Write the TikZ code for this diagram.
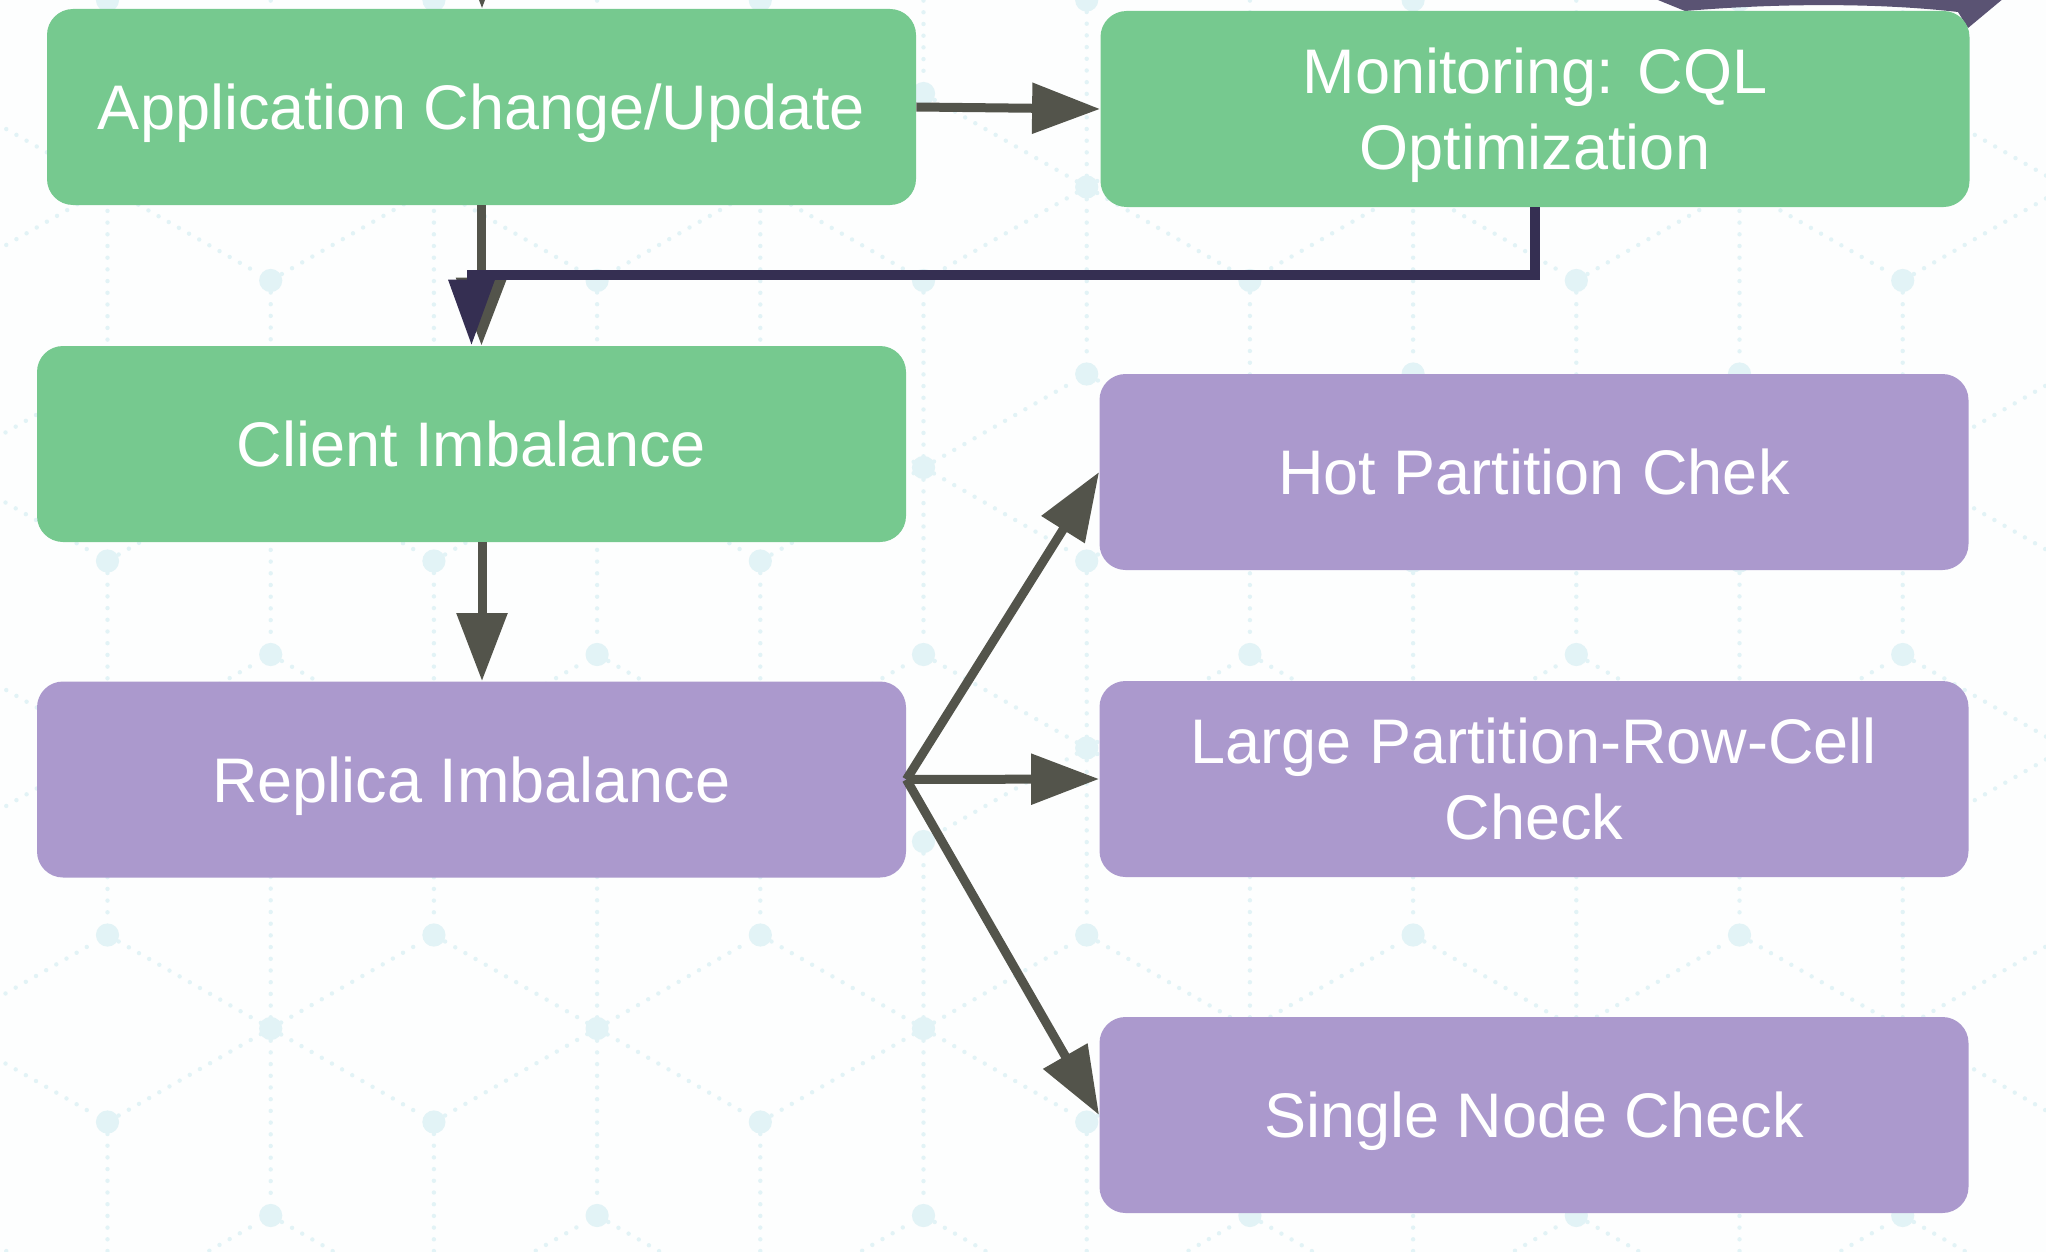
\documentclass[tikz,border=0pt]{standalone}
\usepackage{fontspec}
\setmainfont{Liberation Sans}
\usetikzlibrary{arrows.meta}
\definecolor{boxgreen}{RGB}{118,201,143}
\definecolor{boxpurple}{RGB}{171,153,205}
\definecolor{arrowgray}{RGB}{83,84,75}
\definecolor{darkpur}{RGB}{53,47,82}
\definecolor{patcol}{RGB}{226,243,246}
\definecolor{bgcol}{RGB}{253,254,254}
\definecolor{topshapecol}{RGB}{90,83,115}
\tikzset{
  box/.style={rectangle, rounded corners=13pt, minimum width=434.5pt, minimum height=98pt,
    inner sep=0pt, align=center, text=white, text depth=0pt, font=\fontsize{31.5pt}{38pt}\selectfont},
  greenbox/.style={box, fill=boxgreen},
  purplebox/.style={box, fill=boxpurple},
  grayarrow/.style={draw=arrowgray, line width=4.5pt, -{Triangle[length=34pt,width=24.5pt]}},
  darkarrow/.style={draw=darkpur, line width=5pt, -{Triangle[length=33pt,width=22pt]}},
  bgline/.style={draw=patcol, line width=2.2pt, line cap=round, dash pattern=on 0pt off 5.85pt},
  bgdot/.style={fill=patcol},
}
\begin{document}
\begin{tikzpicture}[x=0.5pt,y=-0.5pt]
\useasboundingbox (0,0) rectangle (2046,1252);
\clip (0,0) rectangle (2046,1252);
\fill[bgcol] (0,0) rectangle (2046,1252);
% background isometric pattern
\foreach \i in {-1,...,13}{
  \foreach \j in {-2,...,15}{
    \pgfmathtruncatemacro\pp{mod(\i+\j+40,2)}
    \ifnum\pp=0
      \pgfmathtruncatemacro\ff{mod((\j+3*\i)/2+60,3)}
      \pgfmathsetmacro\px{107.5+163.2*\i}
      \pgfmathsetmacro\py{93.5*\j}
      \ifnum\ff=1
        \draw[bgline] (\px,\py) ++(0,-175) -- ++(0,350);
        \draw[bgline] (\px,\py) ++(-152,-87) -- ++(304,174);
        \draw[bgline] (\px,\py) ++(-152,87) -- ++(304,-174);
      \fi
    \fi
  }
}
\foreach \i in {-1,...,13}{
  \foreach \j in {-2,...,15}{
    \pgfmathtruncatemacro\pp{mod(\i+\j+40,2)}
    \ifnum\pp=0
      \pgfmathsetmacro\px{107.5+163.2*\i}
      \pgfmathsetmacro\py{93.5*\j}
      \fill[bgdot] (\px,\py) circle[radius=5.8pt];
    \fi
  }
}
% partial shape at top right
\fill[topshapecol] (1653,-2) -- (1685,11) .. controls (1780,3) and (1880,3) .. (1958,12) -- (1968,28) -- (2004,-2) -- cycle;
% nodes
\node[greenbox] (A) at (481.5,107) {Application Change/Update};
\node[greenbox] (M) at (1535,109) {Monitoring: CQL\\Optimization};
\node[greenbox] (C) at (471.5,444) {Client Imbalance};
\node[purplebox] (R) at (471.5,779.5) {Replica Imbalance};
\node[purplebox] (H) at (1534,472) {Hot Partition Chek};
\node[purplebox] (L) at (1534,779) {Large Partition-Row-Cell\\Check};
\node[purplebox] (S) at (1534,1115) {Single Node Check};
\coordinate (topin) at (482,-100);
% connectors
\draw[grayarrow] (topin) -- (A.north -| topin);
\draw[grayarrow] (A.east) -- (M.west);
\draw[grayarrow] (A.south) -- (A.south |- C.north);
\draw[darkarrow] (M.south) -- ++(0,68) -| (C.north);
\draw[grayarrow] ([xshift=5.25pt]C.south) -- ([xshift=5.25pt]R.north);
\draw[grayarrow] (R.east) -- (H.west);
\draw[grayarrow] (R.east) -- (L.west);
\draw[grayarrow] (R.east) -- (S.west);
\end{tikzpicture}
\end{document}
